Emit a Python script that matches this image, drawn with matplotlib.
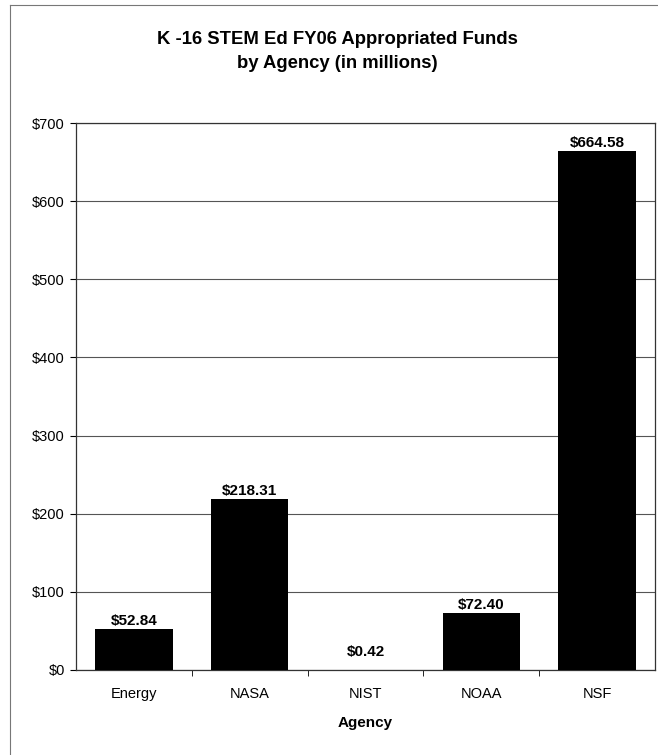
import matplotlib
matplotlib.use("Agg")
import matplotlib.pyplot as plt
from matplotlib.lines import Line2D

agencies = ["Energy", "NASA", "NIST", "NOAA", "NSF"]
funds = [52.84, 218.31, 0.42, 72.40, 664.58]
yticks = [0, 100, 200, 300, 400, 500, 600, 700]

plt.rcParams['font.family'] = ['Liberation Sans', 'DejaVu Sans']

W, H = 658, 755
fig = plt.figure(figsize=(W / 100, H / 100), dpi=100)
ax = fig.add_axes([76 / W, 1 - 670 / H, (655 - 76) / W, (670 - 123) / H])

x = list(range(len(agencies)))
ax.bar(x, funds, width=0.67, color="black", zorder=3)
ax.set_xlim(-0.5, len(agencies) - 0.5)
ax.set_ylim(0, 700)
ax.set_yticks(yticks)
ax.set_yticklabels([f"${v}" for v in yticks], fontsize=10.5)
ax.yaxis.grid(True, color="#555555", linewidth=0.8, zorder=0)
ax.set_xticks(x)
ax.set_xticklabels(agencies, fontsize=10.5)
ax.tick_params(axis="x", length=0, pad=12)
ax.set_xticks([i + 0.5 for i in range(len(agencies) - 1)], minor=True)
ax.tick_params(axis="x", which="minor", length=4, direction="out")
ax.tick_params(axis="y", length=4, direction="out", pad=4)

for i, v in enumerate(funds):
    off = 1.5 if v > 10 else 14
    ax.text(i, v + off, f"${v:.2f}", ha="center", va="bottom",
            fontsize=11, fontweight="bold")

for s in ax.spines.values():
    s.set_color("#333333")
    s.set_linewidth(0.9)

ax.set_xlabel("Agency", fontsize=11, fontweight="bold", labelpad=11)

fig.text(337.5 / W, 1 - 40 / H, "K -16 STEM Ed FY06 Appropriated Funds",
         ha="center", va="center", fontsize=13.3, fontweight="bold")
fig.text(337.5 / W, 1 - 64 / H, "by Agency (in millions)",
         ha="center", va="center", fontsize=13.3, fontweight="bold")

# outer chart border
fig.add_artist(Line2D([10 / W, 10 / W], [0, 1 - 5 / H], color="#777777", linewidth=0.8))
fig.add_artist(Line2D([10 / W, 1], [1 - 5 / H, 1 - 5 / H], color="#777777", linewidth=0.8))

fig.savefig("out.png", dpi=100, facecolor="white")
